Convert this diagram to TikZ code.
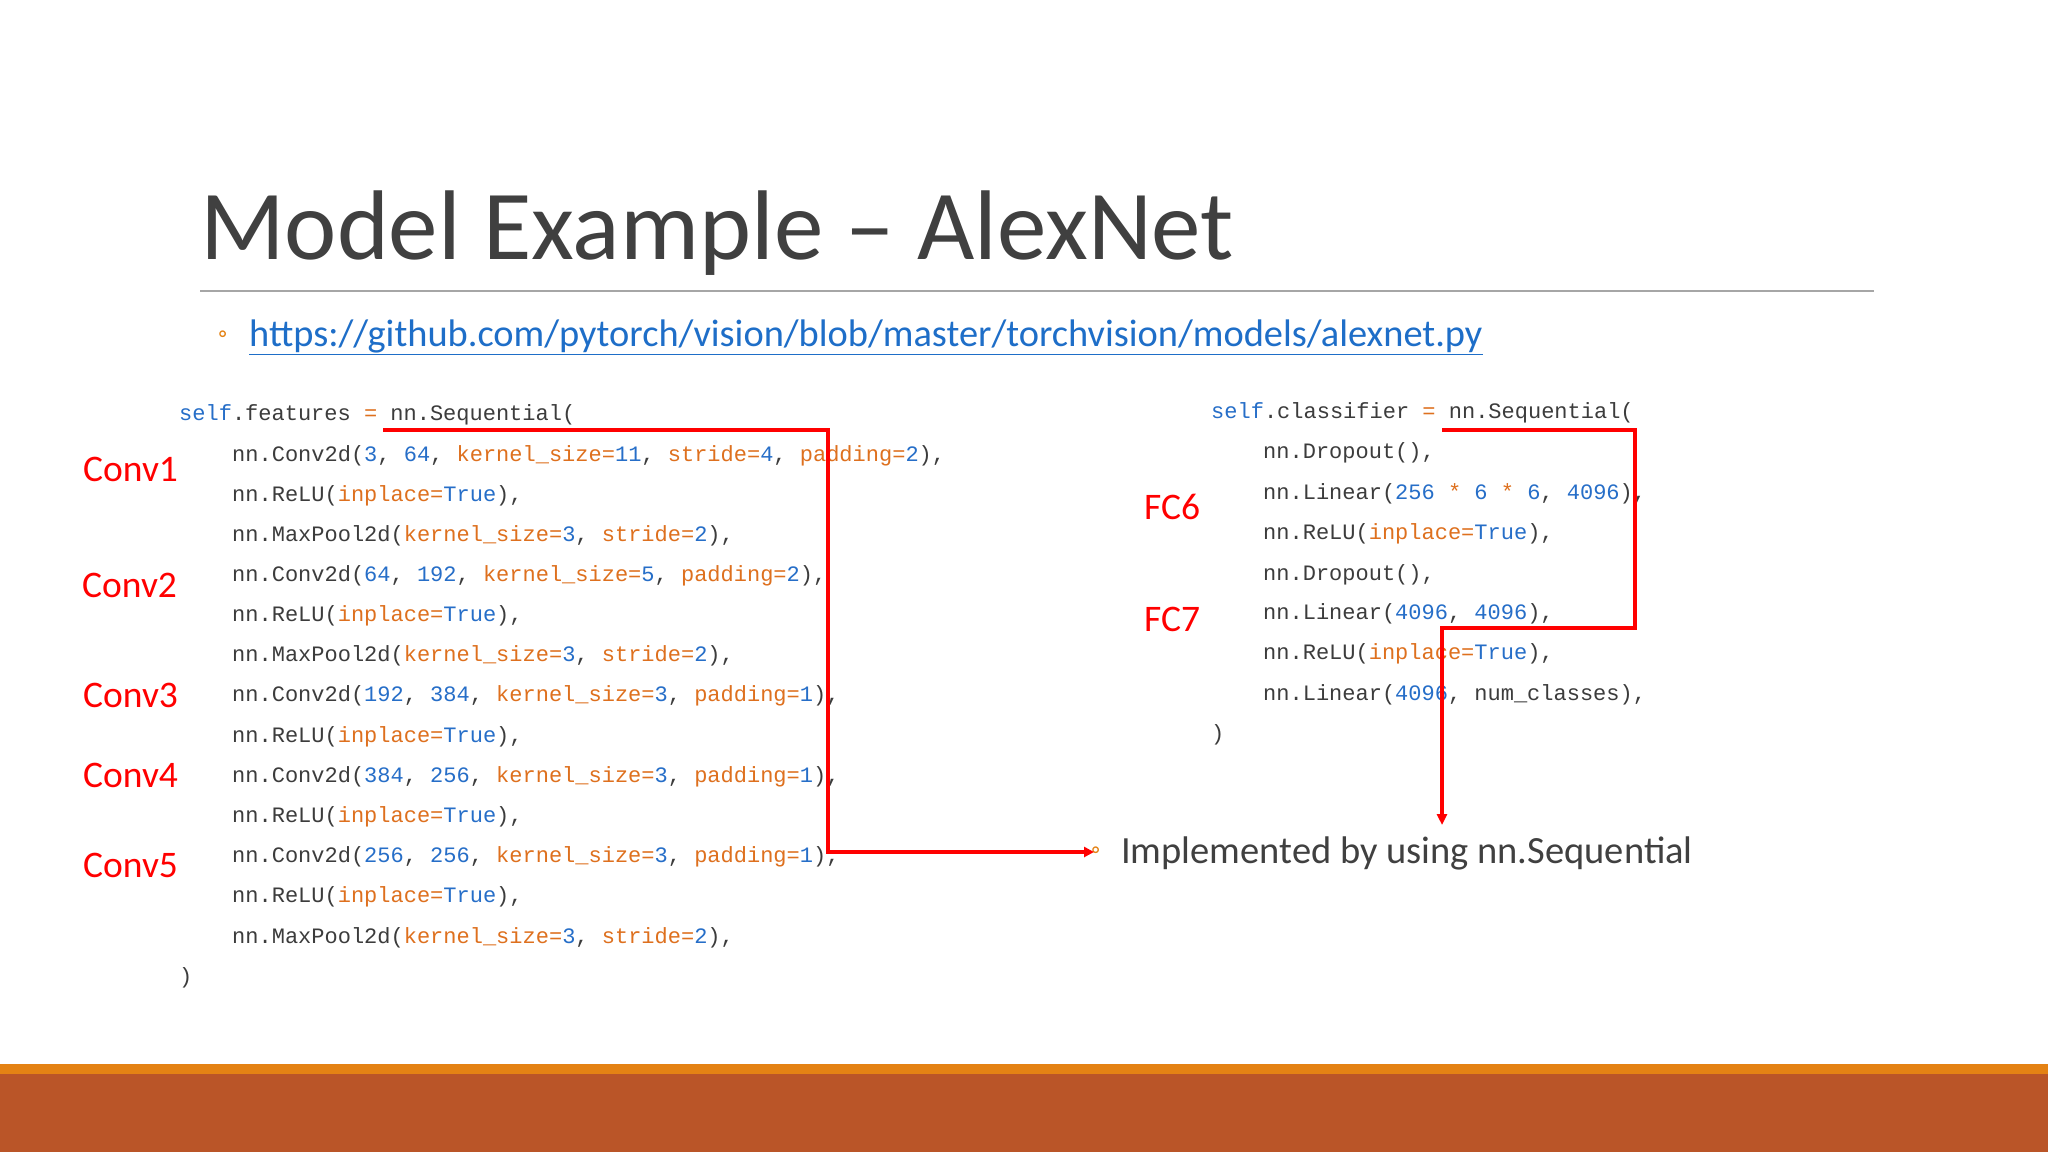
\documentclass[tikz,border=0pt]{standalone}
\usepackage{fontspec}
\setmainfont{Carlito}
\newfontfamily\codefont{Liberation Mono}
\usetikzlibrary{arrows.meta}
\definecolor{cblue}{RGB}{38,110,200}
\definecolor{corange}{RGB}{222,112,30}
\definecolor{ctext}{RGB}{60,60,60}
\definecolor{titlegray}{RGB}{64,64,64}
\definecolor{linkblue}{RGB}{30,110,200}
\definecolor{bandtop}{RGB}{228,130,20}
\definecolor{bandbot}{RGB}{186,85,40}
\definecolor{bul}{RGB}{228,130,20}
\newcommand\cB[1]{\textcolor{cblue}{#1}}
\newcommand\cO[1]{\textcolor{corange}{#1}}
\begin{document}
\begin{tikzpicture}[x=1pt,y=-1pt,
  code/.style={anchor=west,inner sep=0,font=\codefont\fontsize{22}{24}\selectfont,text=ctext},
  lab/.style={anchor=west,inner sep=0,text=red,font=\fontsize{37.5}{40}\selectfont},
  redline/.style={draw=red,line width=3.2pt}]
\useasboundingbox (0,0) rectangle (2048,1152);
\fill[white] (0,0) rectangle (2048,1152);
\fill[bandtop] (0,1064) rectangle (2048,1074);
\fill[bandbot] (0,1074) rectangle (2048,1152);
\node[anchor=base west,inner sep=0,text=titlegray,font=\fontsize{99}{110}\selectfont] (title) at (200,259) {Model Example -- AlexNet};
\draw[gray!70,line width=1.3pt] (200,291) -- (1874,291);
\node[anchor=west,inner sep=0,text=bul,font=\fontsize{26}{30}\selectfont] (b1) at (218,337) {◦};
\node[anchor=west,inner sep=0,text=linkblue,font=\fontsize{38.4}{40}\selectfont] (url) at (249,337) {\underline{https://github.com/pytorch/vision/blob/master/torchvision/models/alexnet.py}};
% left code
\node[code] (l0) at (179,415) {\cB{self}.features \cO{=} nn.Sequential(};
\node[code] (l1) at (232,456) {nn.Conv2d(\cB{3}, \cB{64}, \cO{kernel\_size=}\cB{11}, \cO{stride=}\cB{4}, \cO{padding=}\cB{2}),};
\node[code] (l2) at (232,496) {nn.ReLU(\cO{inplace=}\cB{True}),};
\node[code] (l3) at (232,536) {nn.MaxPool2d(\cO{kernel\_size=}\cB{3}, \cO{stride=}\cB{2}),};
\node[code] (l4) at (232,576) {nn.Conv2d(\cB{64}, \cB{192}, \cO{kernel\_size=}\cB{5}, \cO{padding=}\cB{2}),};
\node[code] (l5) at (232,616) {nn.ReLU(\cO{inplace=}\cB{True}),};
\node[code] (l6) at (232,656) {nn.MaxPool2d(\cO{kernel\_size=}\cB{3}, \cO{stride=}\cB{2}),};
\node[code] (l7) at (232,696) {nn.Conv2d(\cB{192}, \cB{384}, \cO{kernel\_size=}\cB{3}, \cO{padding=}\cB{1}),};
\node[code] (l8) at (232,737) {nn.ReLU(\cO{inplace=}\cB{True}),};
\node[code] (l9) at (232,777) {nn.Conv2d(\cB{384}, \cB{256}, \cO{kernel\_size=}\cB{3}, \cO{padding=}\cB{1}),};
\node[code] (l10) at (232,817) {nn.ReLU(\cO{inplace=}\cB{True}),};
\node[code] (l11) at (232,857) {nn.Conv2d(\cB{256}, \cB{256}, \cO{kernel\_size=}\cB{3}, \cO{padding=}\cB{1}),};
\node[code] (l12) at (232,897) {nn.ReLU(\cO{inplace=}\cB{True}),};
\node[code] (l13) at (232,938) {nn.MaxPool2d(\cO{kernel\_size=}\cB{3}, \cO{stride=}\cB{2}),};
\node[code] (l14) at (179,978) {)};
% right code
\node[code] (r0) at (1211,413) {\cB{self}.classifier \cO{=} nn.Sequential(};
\node[code] (r1) at (1263,453) {nn.Dropout(),};
\node[code] (r2) at (1263,494) {nn.Linear(\cB{256} \cO{*} \cB{6} \cO{*} \cB{6}, \cB{4096}),};
\node[code] (r3) at (1263,534) {nn.ReLU(\cO{inplace=}\cB{True}),};
\node[code] (r4) at (1263,575) {nn.Dropout(),};
\node[code] (r5) at (1263,614) {nn.Linear(\cB{4096}, \cB{4096}),};
\node[code] (r6) at (1263,654) {nn.ReLU(\cO{inplace=}\cB{True}),};
\node[code] (r7) at (1263,695) {nn.Linear(\cB{4096}, num\_classes),};
\node[code] (r8) at (1211,735) {)};
% labels
\node[lab] (c1) at (83,469) {Conv1};
\node[lab] (c2) at (82,585) {Conv2};
\node[lab] (c3) at (83,695) {Conv3};
\node[lab] (c4) at (83,775) {Conv4};
\node[lab] (c5) at (83,865) {Conv5};
\node[lab] (f6) at (1144,507) {FC6};
\node[lab] (f7) at (1144,619) {FC7};
% bullet text
\node[anchor=west,inner sep=0,text=bul,font=\fontsize{26}{30}\selectfont] (b2) at (1091,853) {◦};
\node[anchor=west,inner sep=0,text=titlegray,font=\fontsize{38.5}{40}\selectfont] (impl) at (1121,853) {Implemented by using nn.Sequential};
% red connectors
\coordinate (a1) at (383,430);
\coordinate (a2) at (828,430);
\coordinate (a3) at (828,852);
\coordinate (a4) at (1094,852);
\draw[redline,-{Triangle[length=10pt,width=10pt]}] (a1) -- (a2) -- (a3) -- (a4);
\coordinate (d1) at (1442,430);
\coordinate (d2) at (1635,430);
\coordinate (d3) at (1635,628);
\coordinate (d4) at (1442,628);
\coordinate (d5) at (1442,825);
\draw[redline,-{Triangle[length=11pt,width=10pt]}] (d1) -- (d2) -- (d3) -- (d4) -- (d5);
\end{tikzpicture}
\end{document}
